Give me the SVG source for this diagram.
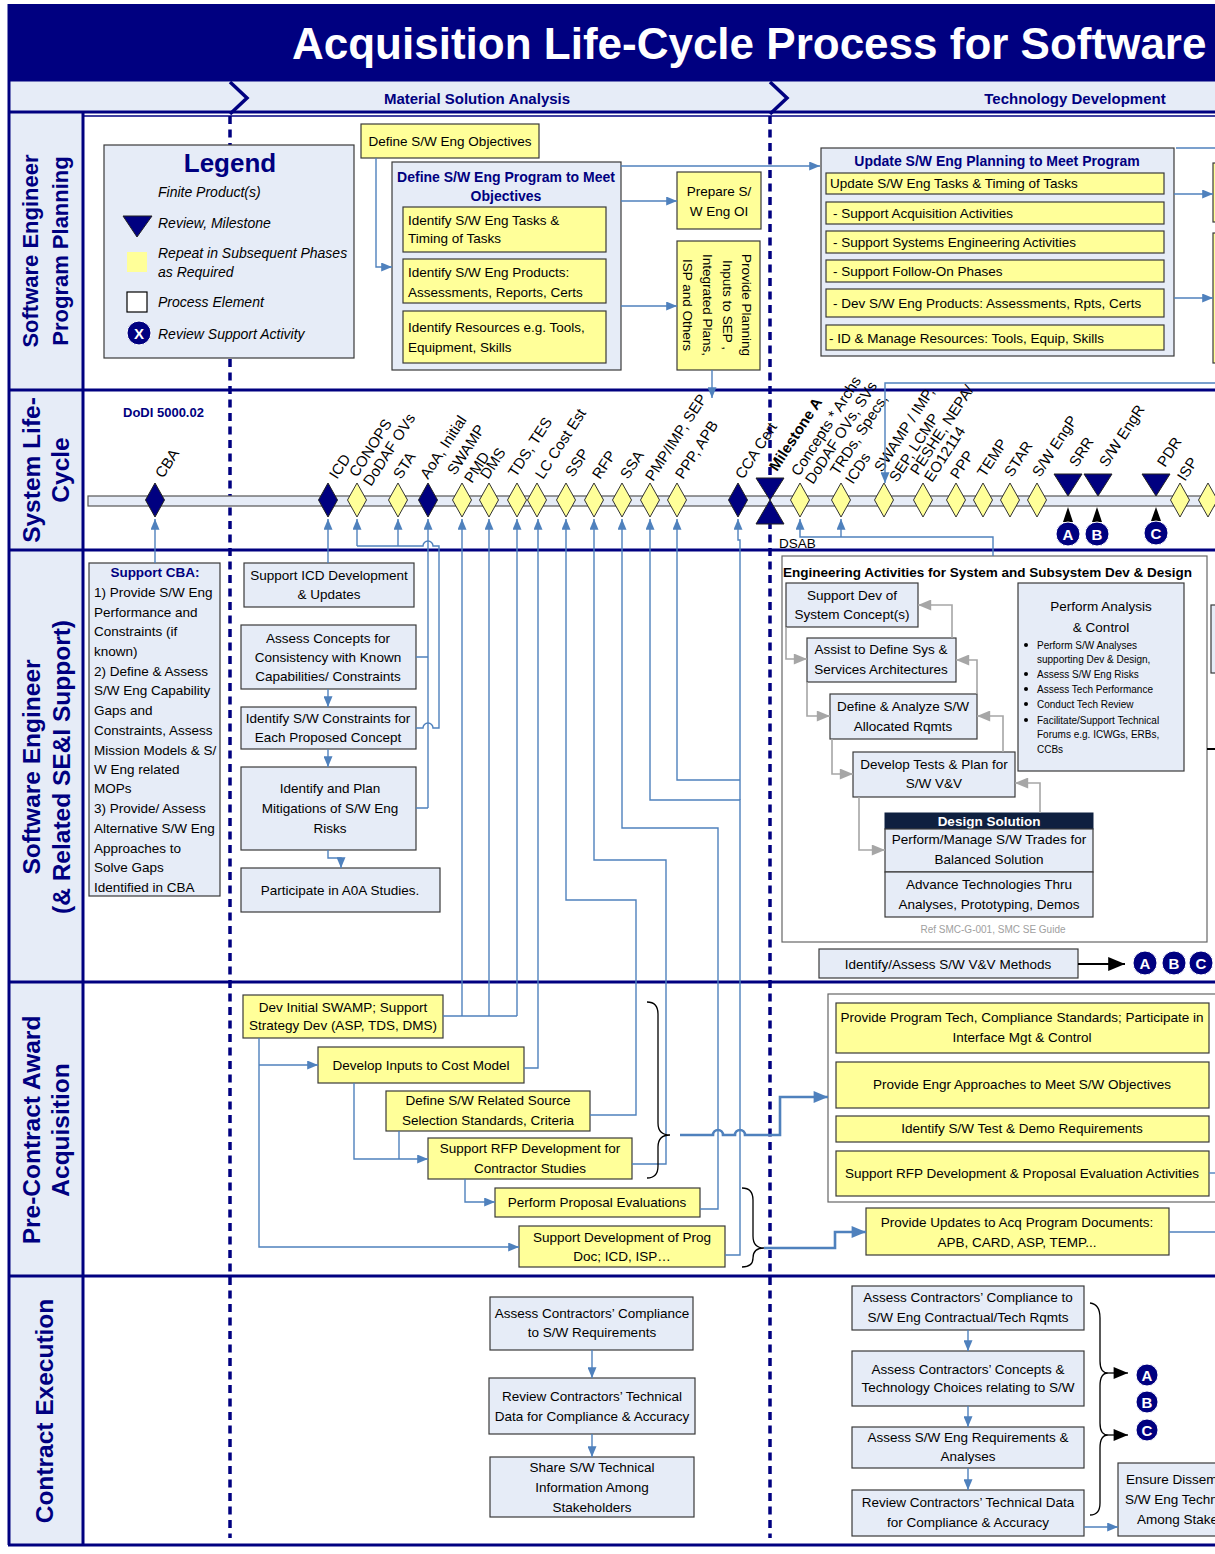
<svg xmlns="http://www.w3.org/2000/svg" width="1215" height="1554" viewBox="0 0 1215 1554">
<defs>
<style>
text{font-family:"Liberation Sans",Arial,sans-serif;}
.t{font-size:13.5px;fill:#000}
.m{text-anchor:middle}
.yb{fill:#ffff99;stroke:#3a3a3a;stroke-width:1.2}
.bb{fill:#e6ecf7;stroke:#3a3a3a;stroke-width:1.2}
.wb{fill:#fff;stroke:#666;stroke-width:1.2}
.lane{fill:#000080;font-weight:bold;text-anchor:middle}
.cn{fill:none;stroke:#4f81bd;stroke-width:1.4}
.ck{fill:none;stroke:#4f81bd;stroke-width:2.6}
.cg{fill:none;stroke:#a6a6a6;stroke-width:1.6}
.kb{fill:none;stroke:#000;stroke-width:1.3}
.tl{font-size:15px;fill:#000}
.dy{fill:#ffff99;stroke:#333;stroke-width:1}
.dn{fill:#000080;stroke:#222;stroke-width:1}
.sep{stroke:#000080;stroke-width:3}
.dot{stroke:#000080;stroke-width:3.5;stroke-dasharray:8 5.5;fill:none}
.ci{fill:#000080;stroke:#fff;stroke-width:1}
.cl{fill:#fff;font-weight:bold;font-size:15px;text-anchor:middle}
.hd{fill:#000080;font-weight:bold;font-size:14px}
.bl{font-size:10px;fill:#000}
</style>
<marker id="ab" viewBox="0 0 12 10" refX="12" refY="5" markerWidth="12" markerHeight="9" markerUnits="userSpaceOnUse" orient="auto"><path d="M0,0 L12,5 L0,10 z" fill="#4f81bd"/></marker>
<marker id="abk" viewBox="0 0 12 10" refX="12" refY="5" markerWidth="16" markerHeight="12" markerUnits="userSpaceOnUse" orient="auto"><path d="M0,0 L12,5 L0,10 z" fill="#4f81bd"/></marker>
<marker id="ag" viewBox="0 0 12 10" refX="12" refY="5" markerWidth="15" markerHeight="11" markerUnits="userSpaceOnUse" orient="auto"><path d="M0,0 L12,5 L0,10 z" fill="#a6a6a6"/></marker>
<marker id="ak" viewBox="0 0 12 10" refX="12" refY="5" markerWidth="22" markerHeight="14" markerUnits="userSpaceOnUse" orient="auto"><path d="M0,0 L12,5 L0,10 z" fill="#000"/></marker>
<marker id="aks" viewBox="0 0 12 10" refX="12" refY="5" markerWidth="18" markerHeight="12" markerUnits="userSpaceOnUse" orient="auto"><path d="M0,0 L12,5 L0,10 z" fill="#000"/></marker>
</defs>

<!-- page background -->
<rect x="0" y="0" width="1215" height="1554" fill="#fff"/>

<!-- title band -->
<g id="title">
<rect x="8" y="4" width="1215" height="76" fill="#000080"/>
<text x="292" y="59" font-size="44" font-weight="bold" fill="#fff">Acquisition Life-Cycle Process for Software</text>
</g>

<!-- phase band -->
<g id="phases">
<rect x="8" y="80" width="1215" height="32" fill="#e6ecf7"/>
<polyline points="230,82 247,98 230,114" fill="none" stroke="#000080" stroke-width="3.5"/>
<polyline points="770,82 787,98 770,114" fill="none" stroke="#000080" stroke-width="3.5"/>
<text x="477" y="104" class="m" font-size="15" font-weight="bold" fill="#000080">Material Solution Analysis</text>
<text x="1075" y="104" class="m" font-size="15" font-weight="bold" fill="#000080">Technology Development</text>
</g>

<!-- swimlane frame -->
<g id="lanes">
<rect x="8" y="112" width="75" height="1433" fill="#e6ecf7"/>
<line x1="8" y1="80" x2="1215" y2="80" class="sep" stroke-width="2"/>
<line x1="8" y1="112" x2="1215" y2="112" class="sep"/>
<line x1="83" y1="116" x2="1215" y2="116" stroke="#000080" stroke-width="1.5"/>
<line x1="8" y1="390" x2="1215" y2="390" class="sep"/>
<line x1="8" y1="550" x2="1215" y2="550" class="sep"/>
<line x1="8" y1="982" x2="1215" y2="982" class="sep"/>
<line x1="8" y1="1276" x2="1215" y2="1276" class="sep"/>
<line x1="8" y1="1545" x2="1215" y2="1545" class="sep"/>
<line x1="9" y1="4" x2="9" y2="1545" class="sep" stroke-width="2"/>
<line x1="83" y1="112" x2="83" y2="1545" class="sep"/>
<text class="lane" font-size="22" transform="translate(38,251) rotate(-90)">Software Engineer</text>
<text class="lane" font-size="22" transform="translate(68,251) rotate(-90)">Program Planning</text>
<text class="lane" font-size="24.5" transform="translate(40,470) rotate(-90)">System Life-</text>
<text class="lane" font-size="24.5" transform="translate(69,470) rotate(-90)">Cycle</text>
<text class="lane" font-size="24.5" transform="translate(40,767) rotate(-90)">Software Engineer</text>
<text class="lane" font-size="24.5" transform="translate(70,767) rotate(-90)">(&amp; Related SE&amp;I Support)</text>
<text class="lane" font-size="24.5" transform="translate(40,1130) rotate(-90)">Pre-Contract Award</text>
<text class="lane" font-size="24.5" transform="translate(69,1130) rotate(-90)">Acquisition</text>
<text class="lane" font-size="24.5" transform="translate(53,1411) rotate(-90)">Contract Execution</text>
<line x1="230" y1="116" x2="230" y2="1538" class="dot"/>
<line x1="770" y1="116" x2="770" y2="1538" class="dot"/>
</g>

<!-- legend -->
<g id="legend">
<rect x="104" y="145" width="250" height="213" class="bb" stroke="#555"/>
<text x="230" y="172" class="m" font-size="26" font-weight="bold" fill="#000080">Legend</text>
<text x="158" y="197" font-size="14" font-style="italic">Finite Product(s)</text>
<polygon points="123,216 152,216 137,237" fill="#000080" stroke="#222"/>
<text x="158" y="228" font-size="14" font-style="italic">Review, Milestone</text>
<rect x="127" y="252" width="20" height="20" fill="#ffff99"/>
<text x="158" y="258" font-size="14" font-style="italic">Repeat in Subsequent Phases</text>
<text x="158" y="277" font-size="14" font-style="italic">as Required</text>
<rect x="127" y="292" width="20" height="20" fill="#fff" stroke="#000" stroke-width="1.2"/>
<text x="158" y="307" font-size="14" font-style="italic">Process Element</text>
<circle cx="139" cy="333" r="12" class="ci"/>
<text x="139" y="338.5" class="cl">X</text>
<text x="158" y="339" font-size="14" font-style="italic">Review Support Activity</text>
</g>

<!-- program planning lane -->
<g id="n-define-objectives">
<rect x="361" y="124" width="178" height="34" class="yb"/>
<text x="450" y="146" class="t m">Define S/W Eng Objectives</text>
</g>
<g id="n-define-program">
<rect x="392" y="162" width="229" height="208" class="bb"/>
<text x="506" y="182" class="hd m">Define S/W Eng Program to Meet</text>
<text x="506" y="201" class="hd m">Objectives</text>
<rect x="403" y="207" width="203" height="45" class="yb"/>
<text x="408" y="225" class="t">Identify S/W Eng Tasks &amp;</text>
<text x="408" y="243" class="t">Timing of Tasks</text>
<rect x="403" y="259" width="203" height="44" class="yb"/>
<text x="408" y="277" class="t">Identify S/W Eng Products:</text>
<text x="408" y="297" class="t">Assessments, Reports, Certs</text>
<rect x="403" y="311" width="203" height="52" class="yb"/>
<text x="408" y="332" class="t">Identify Resources e.g. Tools,</text>
<text x="408" y="352" class="t">Equipment, Skills</text>
</g>
<g id="n-prepare-oi">
<rect x="677" y="172" width="84" height="57" class="yb"/>
<text x="719" y="196" class="t m">Prepare S/</text>
<text x="719" y="216" class="t m">W Eng OI</text>
</g>
<g id="n-planning-inputs">
<rect x="677" y="241" width="83" height="129" class="yb"/>
<text class="t m" transform="translate(742,305) rotate(90)">Provide Planning</text>
<text class="t m" transform="translate(723,305) rotate(90)">Inputs to SEP ,</text>
<text class="t m" transform="translate(703,305) rotate(90)">Integrated Plans,</text>
<text class="t m" transform="translate(683,305) rotate(90)">ISP and Others</text>
</g>
<g id="n-update-planning">
<rect x="821" y="148" width="353" height="208" class="bb"/>
<text x="997" y="166" class="hd m">Update S/W Eng Planning to Meet Program</text>
<rect x="826" y="173" width="338" height="21" class="yb"/>
<text x="830" y="188" class="t">Update S/W Eng Tasks &amp; Timing of Tasks</text>
<rect x="826" y="202" width="338" height="22" class="yb"/>
<text x="833" y="218" class="t">- Support Acquisition Activities</text>
<rect x="826" y="231" width="338" height="22" class="yb"/>
<text x="833" y="247" class="t">- Support Systems Engineering Activities</text>
<rect x="826" y="260" width="338" height="22" class="yb"/>
<text x="833" y="276" class="t">- Support Follow-On Phases</text>
<rect x="826" y="289" width="338" height="28" class="yb"/>
<text x="833" y="308" class="t">- Dev S/W Eng Products: Assessments, Rpts, Certs</text>
<rect x="826" y="325" width="338" height="25" class="yb"/>
<text x="829" y="343" class="t">- ID &amp; Manage Resources: Tools, Equip, Skills</text>
</g>
<g id="n-planning-next">
<rect x="1213" y="163" width="12" height="59" class="yb"/>
<rect x="1213" y="233" width="12" height="130" class="yb"/>
</g>

<!-- system life-cycle lane -->
<g id="timeline">
<text x="123" y="417" font-size="13" font-weight="bold" fill="#000080">DoDI 5000.02</text>
<rect x="88" y="496" width="1135" height="10" fill="#e6ecf7" stroke="#555" stroke-width="1.2"/>
</g>
<g id="m-cba"><polygon points="155,483 164.5,500 155,517 145.5,500" class="dn"/><text class="tl" transform="translate(163,479) rotate(-57)">CBA</text></g>
<g id="m-icd"><polygon points="328,483 337.5,500 328,517 318.5,500" class="dn"/><text class="tl" transform="translate(337,480) rotate(-57)">ICD</text></g>
<g id="m-conops"><polygon points="357,483 366.5,500 357,517 347.5,500" class="dy"/><text class="tl" transform="translate(357,478) rotate(-57)">CONOPS</text><text class="tl" transform="translate(371,487) rotate(-57)">DoDAF OVs</text></g>
<g id="m-sta"><polygon points="398,483 407.5,500 398,517 388.5,500" class="dy"/><text class="tl" transform="translate(401,480) rotate(-57)">STA</text></g>
<g id="m-aoa"><polygon points="428,483 437.5,500 428,517 418.5,500" class="dn"/><text class="tl" transform="translate(428,480) rotate(-57)">AoA, Initial</text></g>
<g id="m-swamp"><polygon points="462,483 471.5,500 462,517 452.5,500" class="dy"/><text class="tl" transform="translate(455,476) rotate(-57)">SWAMP</text><text class="tl" transform="translate(472,484) rotate(-57)">PMD</text></g>
<g id="m-dms"><polygon points="489,483 498.5,500 489,517 479.5,500" class="dy"/><text class="tl" transform="translate(488,480) rotate(-57)">DMS</text></g>
<g id="m-tds"><polygon points="517,483 526.5,500 517,517 507.5,500" class="dy"/><text class="tl" transform="translate(516,478) rotate(-57)">TDS, TES</text></g>
<g id="m-lcce"><polygon points="537,483 546.5,500 537,517 527.5,500" class="dy"/><text class="tl" transform="translate(543,480) rotate(-57)">LC Cost Est</text></g>
<g id="m-ssp"><polygon points="566,483 575.5,500 566,517 556.5,500" class="dy"/><text class="tl" transform="translate(573,478) rotate(-57)">SSP</text></g>
<g id="m-rfp"><polygon points="594,483 603.5,500 594,517 584.5,500" class="dy"/><text class="tl" transform="translate(600,480) rotate(-57)">RFP</text></g>
<g id="m-ssa"><polygon points="622,483 631.5,500 622,517 612.5,500" class="dy"/><text class="tl" transform="translate(628,480) rotate(-57)">SSA</text></g>
<g id="m-pmp"><polygon points="650,483 659.5,500 650,517 640.5,500" class="dy"/><text class="tl" transform="translate(653,482) rotate(-57)">PMP/IMP, SEP</text></g>
<g id="m-ppp1"><polygon points="677,483 686.5,500 677,517 667.5,500" class="dy"/><text class="tl" transform="translate(683,480) rotate(-57)">PPP, APB</text></g>
<g id="m-cca"><polygon points="738,483 747.5,500 738,517 728.5,500" class="dn"/><text class="tl" transform="translate(743,480) rotate(-57)">CCA Cert</text></g>
<g id="m-msa"><polygon points="756,478 784,478 770,500" class="dn"/><polygon points="770,500 784,524 756,524" class="dn"/><text class="tl" font-weight="bold" transform="translate(777,472) rotate(-57)">Milestone A</text></g>
<g id="m-concepts"><polygon points="800,483 809.5,500 800,517 790.5,500" class="dy"/><text class="tl" transform="translate(799,477) rotate(-57)">Concepts * Archs</text><text class="tl" transform="translate(813,485) rotate(-57)">DoDAF OVs, SVs</text></g>
<g id="m-trds"><polygon points="841,483 850.5,500 841,517 831.5,500" class="dy"/><text class="tl" transform="translate(838,476) rotate(-57)">TRDs, Specs,</text><text class="tl" transform="translate(853,485) rotate(-57)">ICDs</text></g>
<g id="m-swamp2"><polygon points="884,483 893.5,500 884,517 874.5,500" class="dy"/><text class="tl" transform="translate(882,473) rotate(-57)">SWAMP / IMP,</text><text class="tl" transform="translate(897,483) rotate(-57)">SEP, LCMP</text></g>
<g id="m-peshe"><polygon points="923,483 932.5,500 923,517 913.5,500" class="dy"/><text class="tl" transform="translate(918,476) rotate(-57)">PESHE, NEPA/</text><text class="tl" transform="translate(932,483) rotate(-57)">EO12114</text></g>
<g id="m-ppp2"><polygon points="956,483 965.5,500 956,517 946.5,500" class="dy"/><text class="tl" transform="translate(958,480) rotate(-57)">PPP</text></g>
<g id="m-temp"><polygon points="983,483 992.5,500 983,517 973.5,500" class="dy"/><text class="tl" transform="translate(985,478) rotate(-57)">TEMP</text></g>
<g id="m-star"><polygon points="1010,483 1019.5,500 1010,517 1000.5,500" class="dy"/><text class="tl" transform="translate(1012,478) rotate(-57)">STAR</text></g>
<g id="m-swengp"><polygon points="1037,483 1046.5,500 1037,517 1027.5,500" class="dy"/><text class="tl" transform="translate(1040,478) rotate(-57)">S/W EngP</text></g>
<g id="m-srr"><polygon points="1054,474 1082,474 1068,496" class="dn"/><text class="tl" transform="translate(1077,468) rotate(-57)">SRR</text></g>
<g id="m-swengr"><polygon points="1084,474 1112,474 1098,496" class="dn"/><text class="tl" transform="translate(1107,468) rotate(-57)">S/W EngR</text></g>
<g id="m-pdr"><polygon points="1142,474 1170,474 1156,496" class="dn"/><text class="tl" transform="translate(1165,468) rotate(-57)">PDR</text></g>
<g id="m-isp"><polygon points="1180,483 1189.5,500 1180,517 1170.5,500" class="dy"/><text class="tl" transform="translate(1185,482) rotate(-57)">ISP</text></g>
<g id="m-next"><polygon points="1208,483 1217.5,500 1208,517 1198.5,500" class="dy"/></g>
<g id="r-a1"><polygon points="1063,522 1073,522 1068,507" fill="#000"/><circle cx="1068" cy="534" r="12" class="ci"/><text x="1068" y="539.5" class="cl">A</text></g>
<g id="r-b1"><polygon points="1092,522 1102,522 1097,507" fill="#000"/><circle cx="1097" cy="534" r="12" class="ci"/><text x="1097" y="539.5" class="cl">B</text></g>
<g id="r-c1"><polygon points="1151,521 1161,521 1156,507" fill="#000"/><circle cx="1156" cy="533" r="12" class="ci"/><text x="1156" y="538.5" class="cl">C</text></g>
<g id="n-dsab"><text x="779" y="548" font-size="13.5">DSAB</text></g>

<!-- SE&I support lane, MSA phase -->
<g id="n-support-cba">
<rect x="89" y="563" width="131" height="333" class="bb"/>
<text x="155" y="577" class="m" font-size="13.5" font-weight="bold" fill="#000080">Support CBA:</text>
<text x="94" y="597" class="t">1) Provide S/W Eng</text>
<text x="94" y="617" class="t">Performance and</text>
<text x="94" y="636" class="t">Constraints (if</text>
<text x="94" y="656" class="t">known)</text>
<text x="94" y="676" class="t">2) Define &amp; Assess</text>
<text x="94" y="695" class="t">S/W Eng Capability</text>
<text x="94" y="715" class="t">Gaps and</text>
<text x="94" y="735" class="t">Constraints, Assess</text>
<text x="94" y="755" class="t">Mission Models &amp; S/</text>
<text x="94" y="774" class="t">W Eng related</text>
<text x="94" y="793" class="t">MOPs</text>
<text x="94" y="813" class="t">3) Provide/ Assess</text>
<text x="94" y="833" class="t">Alternative S/W Eng</text>
<text x="94" y="853" class="t">Approaches to</text>
<text x="94" y="872" class="t">Solve Gaps</text>
<text x="94" y="892" class="t">Identified in CBA</text>
</g>
<g id="n-support-icd">
<rect x="244" y="563" width="170" height="44" class="bb"/>
<text x="329" y="580" class="t m">Support ICD Development</text>
<text x="329" y="599" class="t m">&amp; Updates</text>
</g>
<g id="n-assess-concepts">
<rect x="241" y="625" width="175" height="64" class="bb"/>
<text x="328" y="643" class="t m">Assess Concepts for</text>
<text x="328" y="662" class="t m">Consistency with Known</text>
<text x="328" y="681" class="t m">Capabilities/ Constraints</text>
</g>
<g id="n-sw-constraints">
<rect x="241" y="707" width="175" height="42" class="bb"/>
<text x="328" y="723" class="t m">Identify S/W Constraints for</text>
<text x="328" y="742" class="t m">Each Proposed Concept</text>
</g>
<g id="n-sw-risks">
<rect x="241" y="767" width="175" height="83" class="bb"/>
<text x="330" y="793" class="t m">Identify and Plan</text>
<text x="330" y="813" class="t m">Mitigations of S/W Eng</text>
<text x="330" y="833" class="t m">Risks</text>
</g>
<g id="n-aoa-studies">
<rect x="241" y="868" width="199" height="44" class="bb"/>
<text x="340" y="895" class="t m">Participate in A0A Studies.</text>
</g>

<!-- SE&I support lane, TD phase -->
<g id="n-eng-activities">
<rect x="782" y="556" width="425" height="386" class="wb"/>
<text x="783" y="577" font-size="13.5" font-weight="bold">Engineering Activities for System and Subsystem Dev &amp; Design</text>
<text x="993" y="933" class="m" font-size="10" fill="#a0a0a0">Ref SMC-G-001, SMC SE Guide</text>
</g>
<g id="n-sys-concept">
<rect x="786" y="583" width="132" height="44" class="bb"/>
<text x="852" y="600" class="t m">Support Dev of</text>
<text x="852" y="619" class="t m">System Concept(s)</text>
</g>
<g id="n-architectures">
<rect x="807" y="638" width="149" height="44" class="bb"/>
<text x="881" y="654" class="t m">Assist to Define Sys &amp;</text>
<text x="881" y="674" class="t m">Services Architectures</text>
</g>
<g id="n-allocated-rqmts">
<rect x="830" y="694" width="147" height="45" class="bb"/>
<text x="903" y="711" class="t m">Define &amp; Analyze S/W</text>
<text x="903" y="731" class="t m">Allocated Rqmts</text>
</g>
<g id="n-tests-plan">
<rect x="853" y="752" width="162" height="45" class="bb"/>
<text x="934" y="769" class="t m">Develop Tests &amp; Plan for</text>
<text x="934" y="788" class="t m">S/W V&amp;V</text>
</g>
<g id="n-design-solution">
<rect x="885" y="813" width="208" height="16" fill="#0f2040" stroke="#0f2040"/>
<text x="989" y="826" class="m" font-size="13.5" font-weight="bold" fill="#fff">Design Solution</text>
<rect x="885" y="829" width="208" height="43" class="bb"/>
<text x="989" y="844" class="t m">Perform/Manage S/W Trades for</text>
<text x="989" y="864" class="t m">Balanced Solution</text>
<rect x="885" y="872" width="208" height="45" class="bb"/>
<text x="989" y="889" class="t m">Advance Technologies Thru</text>
<text x="989" y="909" class="t m">Analyses, Prototyping, Demos</text>
</g>
<g id="n-analysis-control">
<rect x="1018" y="583" width="166" height="188" class="bb"/>
<text x="1101" y="611" class="t m">Perform Analysis</text>
<text x="1101" y="632" class="t m">&amp; Control</text>
<circle cx="1026" cy="645" r="2" fill="#000"/>
<circle cx="1026" cy="674" r="2" fill="#000"/>
<circle cx="1026" cy="689" r="2" fill="#000"/>
<circle cx="1026" cy="704" r="2" fill="#000"/>
<circle cx="1026" cy="720" r="2" fill="#000"/>
<text x="1037" y="648.5" class="bl">Perform S/W Analyses</text>
<text x="1037" y="662.5" class="bl">supporting Dev &amp; Design,</text>
<text x="1037" y="677.5" class="bl">Assess S/W Eng Risks</text>
<text x="1037" y="692.5" class="bl">Assess Tech Performance</text>
<text x="1037" y="707.5" class="bl">Conduct Tech Review</text>
<text x="1037" y="723.5" class="bl">Facilitate/Support Technical</text>
<text x="1037" y="737.5" class="bl">Forums e.g. ICWGs, ERBs,</text>
<text x="1037" y="752.5" class="bl">CCBs</text>
</g>
<g id="n-se-next"><rect x="1211" y="605" width="12" height="68" class="bb"/></g>
<g id="n-vv-methods">
<rect x="819" y="949" width="259" height="29" class="bb"/>
<text x="948" y="969" class="t m">Identify/Assess S/W V&amp;V Methods</text>
</g>
<g id="r-abc2">
<circle cx="1145" cy="963" r="12" class="ci"/><text x="1145" y="968.5" class="cl">A</text>
<circle cx="1174" cy="963" r="12" class="ci"/><text x="1174" y="968.5" class="cl">B</text>
<circle cx="1201" cy="963" r="12" class="ci"/><text x="1201" y="968.5" class="cl">C</text>
</g>

<!-- pre-contract award lane -->
<g id="n-initial-swamp">
<rect x="243" y="995" width="200" height="43" class="yb"/>
<text x="343" y="1012" class="t m">Dev Initial SWAMP; Support</text>
<text x="343" y="1030" class="t m">Strategy Dev (ASP, TDS, DMS)</text>
</g>
<g id="n-cost-model">
<rect x="318" y="1047" width="206" height="36" class="yb"/>
<text x="421" y="1070" class="t m">Develop Inputs to Cost Model</text>
</g>
<g id="n-source-selection">
<rect x="386" y="1091" width="204" height="40" class="yb"/>
<text x="488" y="1105" class="t m">Define S/W Related Source</text>
<text x="488" y="1125" class="t m">Selection Standards, Criteria</text>
</g>
<g id="n-rfp-studies">
<rect x="428" y="1138" width="204" height="41" class="yb"/>
<text x="530" y="1153" class="t m">Support RFP Development for</text>
<text x="530" y="1173" class="t m">Contractor Studies</text>
</g>
<g id="n-proposal-eval">
<rect x="495" y="1188" width="205" height="29" class="yb"/>
<text x="597" y="1207" class="t m">Perform Proposal Evaluations</text>
</g>
<g id="n-prog-docs">
<rect x="519" y="1226" width="206" height="41" class="yb"/>
<text x="622" y="1242" class="t m">Support Development of Prog</text>
<text x="622" y="1261" class="t m">Doc; ICD, ISP…</text>
</g>
<g id="n-td-precontract">
<rect x="828" y="994" width="400" height="208" class="wb"/>
<rect x="836" y="1003" width="373" height="50" class="yb"/>
<text x="1022" y="1022" class="t m">Provide Program Tech, Compliance Standards; Participate in</text>
<text x="1022" y="1042" class="t m">Interface Mgt &amp; Control</text>
<rect x="836" y="1062" width="373" height="46" class="yb"/>
<text x="1022" y="1089" class="t m">Provide Engr Approaches to Meet S/W Objectives</text>
<rect x="836" y="1116" width="373" height="26" class="yb"/>
<text x="1022" y="1133" class="t m">Identify S/W Test &amp; Demo Requirements</text>
<rect x="836" y="1151" width="373" height="45" class="yb"/>
<text x="1022" y="1178" class="t m">Support RFP Development &amp; Proposal Evaluation Activities</text>
</g>
<g id="n-acq-updates">
<rect x="866" y="1208" width="303" height="47" class="yb"/>
<text x="1017" y="1227" class="t m">Provide Updates to Acq Program Documents:</text>
<text x="1017" y="1247" class="t m">APB, CARD, ASP, TEMP...</text>
</g>

<!-- contract execution lane -->
<g id="n-ce-compliance">
<rect x="490" y="1297" width="203" height="53" class="bb"/>
<text x="592" y="1318" class="t m">Assess Contractors’ Compliance</text>
<text x="592" y="1337" class="t m">to  S/W Requirements</text>
</g>
<g id="n-ce-review">
<rect x="489" y="1378" width="206" height="56" class="bb"/>
<text x="592" y="1401" class="t m">Review Contractors’ Technical</text>
<text x="592" y="1421" class="t m">Data for Compliance &amp; Accuracy</text>
</g>
<g id="n-ce-share">
<rect x="490" y="1457" width="204" height="60" class="bb"/>
<text x="592" y="1472" class="t m">Share S/W Technical</text>
<text x="592" y="1492" class="t m">Information Among</text>
<text x="592" y="1512" class="t m">Stakeholders</text>
</g>
<g id="n-td-compliance">
<rect x="852" y="1286" width="232" height="44" class="bb"/>
<text x="968" y="1302" class="t m">Assess Contractors’ Compliance to</text>
<text x="968" y="1322" class="t m">S/W Eng Contractual/Tech Rqmts</text>
</g>
<g id="n-td-concepts">
<rect x="852" y="1351" width="232" height="55" class="bb"/>
<text x="968" y="1374" class="t m">Assess Contractors’ Concepts  &amp;</text>
<text x="968" y="1392" class="t m">Technology Choices relating to S/W</text>
</g>
<g id="n-td-rqmts">
<rect x="852" y="1427" width="232" height="41" class="bb"/>
<text x="968" y="1442" class="t m">Assess S/W Eng Requirements &amp;</text>
<text x="968" y="1461" class="t m">Analyses</text>
</g>
<g id="n-td-review">
<rect x="852" y="1490" width="232" height="46" class="bb"/>
<text x="968" y="1507" class="t m">Review Contractors’ Technical Data</text>
<text x="968" y="1527" class="t m">for  Compliance &amp; Accuracy</text>
</g>
<g id="r-abc3">
<circle cx="1147" cy="1375" r="11" class="ci"/><text x="1147" y="1380.5" class="cl">A</text>
<circle cx="1147" cy="1402" r="11" class="ci"/><text x="1147" y="1407.5" class="cl">B</text>
<circle cx="1147" cy="1430" r="11" class="ci"/><text x="1147" y="1435.5" class="cl">C</text>
</g>
<g id="n-td-disseminate">
<rect x="1118" y="1463" width="110" height="73" class="bb"/>
<text x="1126" y="1484" class="t">Ensure Dissem</text>
<text x="1125" y="1504" class="t">S/W Eng Techn</text>
<text x="1137" y="1524" class="t">Among Stake</text>
</g>

<!-- connectors -->
<g id="connectors">
<path class="cn" d="M376,158 V267 H392" marker-end="url(#ab)"/>
<path class="cn" d="M621,166 H820" marker-end="url(#ab)"/>
<path class="cn" d="M621,201 H677" marker-end="url(#ab)"/>
<path class="cn" d="M621,306 H677" marker-end="url(#ab)"/>
<path class="cn" d="M712,370 V398" marker-end="url(#ab)"/>
<path class="cn" d="M1174,194 H1213" marker-end="url(#ab)"/>
<path class="cn" d="M1174,298 H1213" marker-end="url(#ab)"/>
<path class="cn" d="M1176,148 H1215"/>
<path class="cn" d="M1215,383 H885 V483" marker-end="url(#ab)"/>

<path class="cn" d="M155,563 V519" marker-end="url(#ab)"/>
<path class="cn" d="M328,563 V519" marker-end="url(#ab)"/>
<path class="cn" d="M357,546 V519" marker-end="url(#ab)"/>
<path class="cn" d="M398,546 V519" marker-end="url(#ab)"/>
<path class="cn" d="M357,546 H423 a5,5 0 0 1 10,0 H439 V728 H433 a5,5 0 0 0 -10,0 H416"/>
<path class="cn" d="M428,808 V519" marker-end="url(#ab)"/>
<path class="cn" d="M416,657 H428 M416,808 H428"/>
<path class="cn" d="M328,689 V707" marker-end="url(#ab)"/>
<path class="cn" d="M328,749 V767" marker-end="url(#ab)"/>
<path class="cn" d="M328,850 V858 H341 V868" marker-end="url(#ab)"/>

<path class="cn" d="M443,1016 H517"/>
<path class="cn" d="M462,1016 V519" marker-end="url(#ab)"/>
<path class="cn" d="M489,1016 V519" marker-end="url(#ab)"/>
<path class="cn" d="M517,1016 V519" marker-end="url(#ab)"/>
<path class="cn" d="M524,1068 H538 V519" marker-end="url(#ab)"/>
<path class="cn" d="M590,1115 H636 V900 H566 V519" marker-end="url(#ab)"/>
<path class="cn" d="M632,1164 H666 V860 H594 V519" marker-end="url(#ab)"/>
<path class="cn" d="M700,1209 H718 V828 H622 V519" marker-end="url(#ab)"/>
<path class="cn" d="M725,1255 H740 V800 H650 V519" marker-end="url(#ab)"/>
<path class="cn" d="M740,780 H677 V519" marker-end="url(#ab)"/>
<path class="cn" d="M740,800 V540 H738 V519" marker-end="url(#ab)"/>
<path class="cn" d="M993,556 V537 H800 V519" marker-end="url(#ab)"/>
<path class="cn" d="M841,537 V519" marker-end="url(#ab)"/>

<path class="cg" d="M952,638 V605 H918" marker-end="url(#ag)"/>
<path class="cg" d="M977,694 V660 H956" marker-end="url(#ag)"/>
<path class="cg" d="M1003,752 V716 H977" marker-end="url(#ag)"/>
<path class="cg" d="M1040,813 V783 H1015" marker-end="url(#ag)"/>
<path class="cg" d="M786,627 V659 H807" marker-end="url(#ag)"/>
<path class="cg" d="M807,682 V716 H830" marker-end="url(#ag)"/>
<path class="cg" d="M832,739 V774 H853" marker-end="url(#ag)"/>
<path class="cg" d="M859,797 V850 H885" marker-end="url(#ag)"/>
<path d="M1207,749 H1215" stroke="#000" stroke-width="2"/>
<path d="M1078,964 H1125" stroke="#000" stroke-width="2" marker-end="url(#ak)"/>

<path class="cn" d="M259,1038 V1247 H519" marker-end="url(#ab)"/>
<path class="cn" d="M259,1065 H318" marker-end="url(#ab)"/>
<path class="cn" d="M354,1083 V1159 H428" marker-end="url(#ab)"/>
<path class="cn" d="M399,1131 V1159"/>
<path class="cn" d="M465,1179 V1202 H495" marker-end="url(#ab)"/>
<path class="kb" d="M647,1002 Q658,1002 658,1014 V1123 Q658,1135 670,1135 Q658,1135 658,1147 V1166 Q658,1178 647,1178"/>
<path class="kb" d="M742,1188 Q753,1188 753,1200 V1236 Q753,1248 764,1248 Q753,1248 753,1258 Q753,1267 742,1267"/>
<path class="ck" d="M680,1135 H713 a5,5 0 0 1 10,0 H735 a5,5 0 0 1 10,0 H780 V1097 H828" marker-end="url(#abk)"/>
<path class="ck" d="M764,1248 H835 V1232 H866" marker-end="url(#abk)"/>
<path class="cn" d="M1209,1173 H1215"/>
<path class="cn" d="M1169,1232 H1215"/>

<path class="cn" d="M592,1350 V1378" marker-end="url(#ab)"/>
<path class="cn" d="M592,1434 V1457" marker-end="url(#ab)"/>
<path class="cn" d="M968,1330 V1351" marker-end="url(#ab)"/>
<path class="cn" d="M968,1406 V1427" marker-end="url(#ab)"/>
<path class="cn" d="M968,1468 V1490" marker-end="url(#ab)"/>
<path class="cn" d="M1084,1527 H1118" marker-end="url(#ab)"/>
<path class="kb" d="M1090,1303 Q1100,1304 1100,1318 V1361 Q1100,1373 1108,1373 Q1100,1373 1100,1386 V1423 Q1100,1435 1108,1435 Q1100,1435 1100,1448 V1503 Q1100,1515 1090,1515"/>
<path d="M1108,1373 H1128" stroke="#000" stroke-width="1.3" marker-end="url(#aks)"/>
<path d="M1108,1435 H1128" stroke="#000" stroke-width="1.3" marker-end="url(#aks)"/>
</g>
</svg>
